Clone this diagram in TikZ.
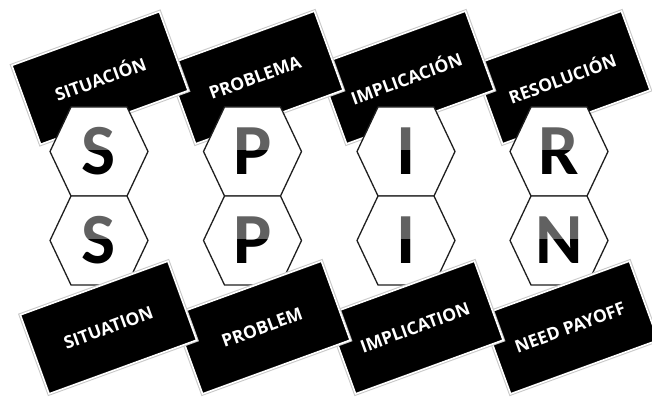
\documentclass[tikz,border=0pt]{standalone}
\usepackage{fontspec}
\setmainfont{Open Sans}
\newfontfamily\hexfont{Carlito}
\tikzset{
  labelbox/.style={rectangle, fill=black, draw=white, line width=1.6pt,
    minimum width=157pt, minimum height=84pt, rotate=20, text=white,
    font=\bfseries\fontsize{17.5}{18}\selectfont,
    preaction={draw=black!22, line width=3.6pt}},
  hexline/.style={draw=black!88, line width=1.3pt, fill=white, line join=miter},
  hexletter/.style={inner sep=0pt, text=black, font=\hexfont\bfseries\fontsize{72}{72}\selectfont},
  toplight/.style={fill=white, opacity=0.38}
}
\newcommand\hexcell[4]{%
  \draw[hexline] (#2-49,#3) -- (#2-28,#3+44.5) -- (#2+28,#3+44.5) -- (#2+49,#3)
     -- (#2+28,#3-44.5) -- (#2-28,#3-44.5) -- cycle;
  \node[hexletter] (#1) at (#2,#3) {#4};
  \fill[toplight] (#2-26,#3+1) rectangle (#2+26,#3+27);}
\begin{document}
\begin{tikzpicture}[x=1pt,y=1pt]
\useasboundingbox[fill=white] (0,0) rectangle (652,396);
% top boxes (right to left so left ones lie on top)
\node[labelbox] (b4) at (562,318.5) {RESOLUCIÓN};
\node[labelbox] (b3) at (406,318.5) {IMPLICACIÓN};
\node[labelbox] (b2) at (255,318.5) {PROBLEMA};
\node[labelbox] (b1) at (100,318) {SITUACIÓN};
% hexagons
\hexcell{h1}{99}{244.5}{S}
\hexcell{h2}{252.5}{244.5}{P}
\hexcell{h3}{406}{244.5}{I}
\hexcell{h4}{559}{244.5}{R}
\hexcell{h5}{99}{155.5}{S}
\hexcell{h6}{252.5}{155.5}{P}
\hexcell{h7}{406}{155.5}{I}
\hexcell{h8}{559}{155.5}{N}
% bottom boxes
\node[labelbox] (b8) at (570,68.5) {NEED PAYOFF};
\node[labelbox] (b7) at (415,68.5) {IMPLICATION};
\node[labelbox] (b6) at (262,68.5) {PROBLEM};
\node[labelbox] (b5) at (108.5,68.5) {SITUATION};
\end{tikzpicture}
\end{document}
